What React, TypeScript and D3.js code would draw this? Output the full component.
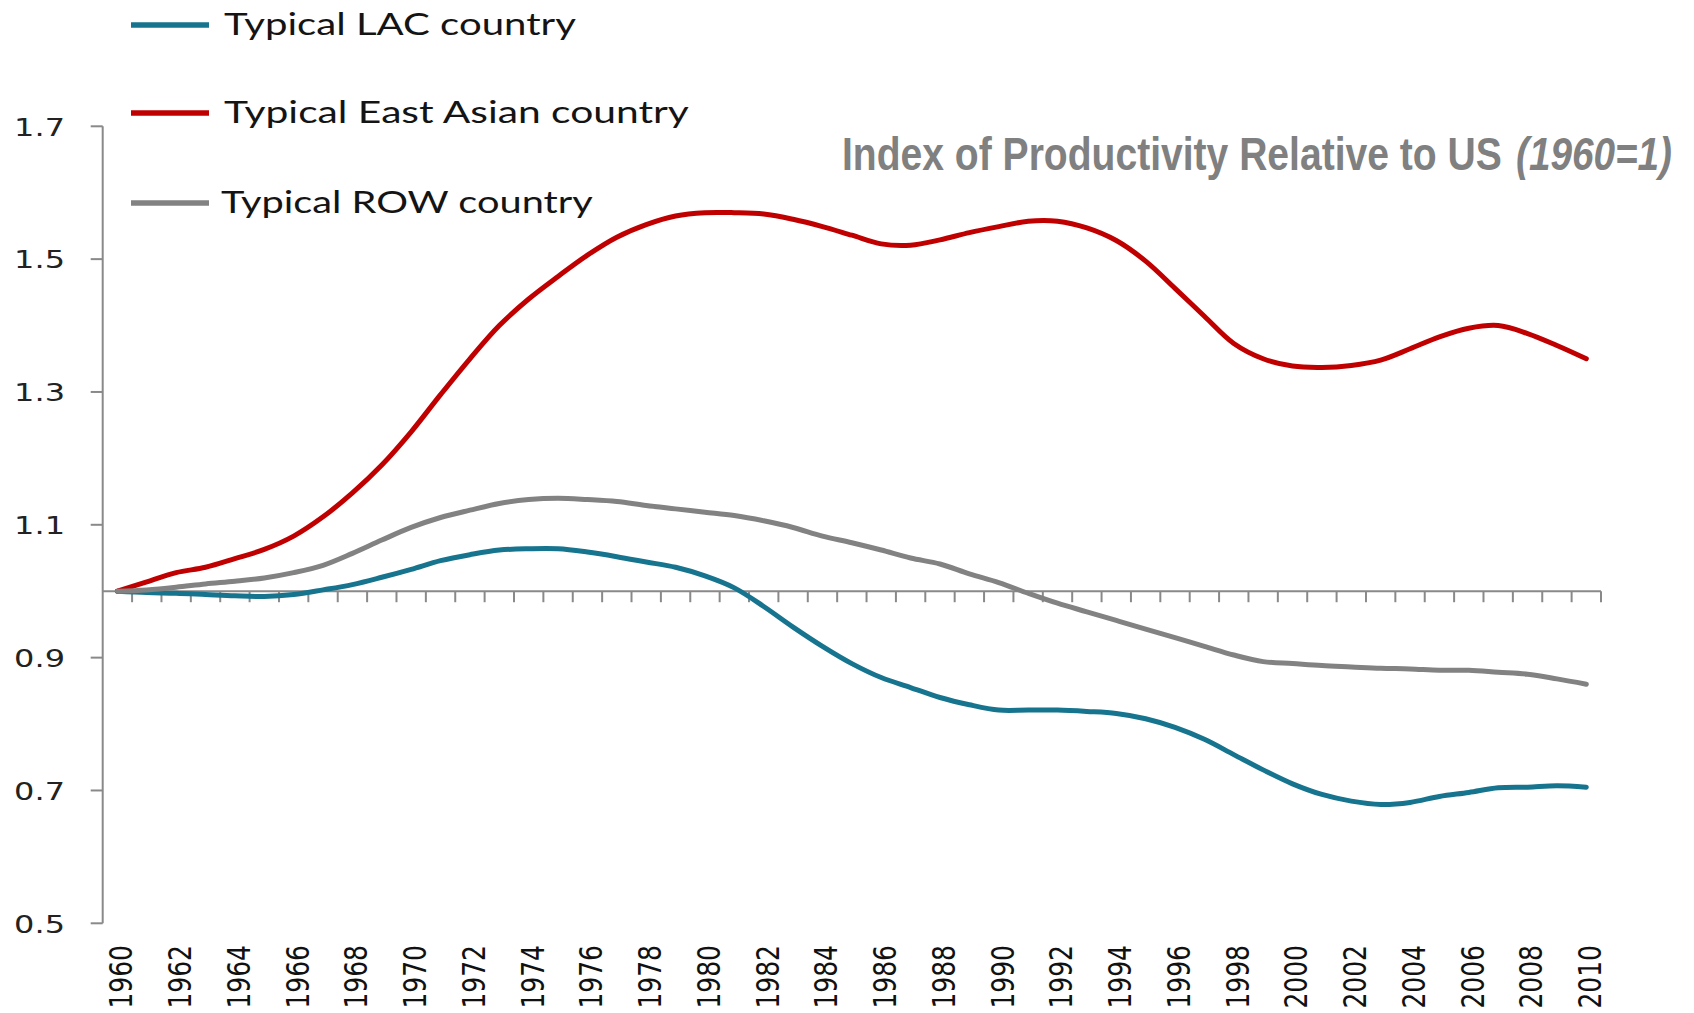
import React, { useEffect, useRef } from 'react';
import * as d3 from 'd3';

const years = d3.range(1960, 2011);

const lac = [
  1.0, 0.998, 0.997, 0.995, 0.993, 0.992, 0.995, 1.002, 1.01, 1.021,
  1.033, 1.046, 1.055, 1.062, 1.064, 1.064, 1.059, 1.052, 1.044, 1.036,
  1.023, 1.005, 0.977, 0.946, 0.917, 0.891, 0.87, 0.855, 0.84, 0.829,
  0.821, 0.821, 0.821, 0.819, 0.816, 0.808, 0.795, 0.777, 0.754, 0.731,
  0.71, 0.694, 0.684, 0.679, 0.682, 0.691, 0.697, 0.704, 0.705, 0.707,
  0.705
];

const eastAsia = [
  1.0, 1.014, 1.028, 1.036, 1.049, 1.063, 1.083, 1.112, 1.148, 1.19,
  1.24, 1.296, 1.35, 1.4, 1.44, 1.474, 1.506, 1.533, 1.552, 1.565,
  1.57, 1.57, 1.568, 1.56, 1.549, 1.536, 1.523, 1.521, 1.529, 1.54,
  1.549, 1.557, 1.557, 1.547, 1.528, 1.497, 1.456, 1.414, 1.373, 1.35,
  1.339, 1.337, 1.34, 1.348, 1.365, 1.383, 1.396, 1.4, 1.388, 1.37,
  1.35
];

const row = [
  1.0, 1.002, 1.006, 1.011, 1.015, 1.02, 1.028, 1.039, 1.057, 1.077,
  1.096, 1.111, 1.122, 1.132, 1.138, 1.14, 1.138, 1.135, 1.129, 1.124,
  1.119, 1.114, 1.106, 1.096, 1.083, 1.073, 1.062, 1.05, 1.041, 1.026,
  1.013, 0.997, 0.982, 0.969, 0.956, 0.943, 0.93, 0.917, 0.904, 0.894,
  0.891, 0.888, 0.886, 0.884, 0.883, 0.881, 0.881, 0.878, 0.875, 0.868,
  0.86
];

const yTicks = [0.5, 0.7, 0.9, 1.1, 1.3, 1.5, 1.7];
const labelYears = years.filter((y) => y % 2 === 0);

const seriesNames = ['Typical LAC country', 'Typical East Asian country', 'Typical ROW country'];
const seriesColors = ['#17748e', '#c00000', '#828282'];
const seriesData = [lac, eastAsia, row];

const title = 'Index of Productivity Relative to US';
const titleItalic = '(1960=1)';

// squeeze/stretch a text horizontally so it spans `width` px from (x, y)
function fitText(sel: any, x: number, y: number, width: number) {
  const node = sel.node() as SVGTextElement;
  const w = node.getComputedTextLength() || width;
  sel.attr('transform', `translate(${x},${y}) scale(${width / w},1)`);
}

export default function App() {
  const ref = useRef<SVGSVGElement | null>(null);

  useEffect(() => {
    document.body.style.margin = '0';
    const svg = d3.select(ref.current);
    svg.selectAll('*').remove();

    const axisColor = '#898989';
    const stretch = 1.28;

    const x = d3.scaleBand<number>()
      .domain(years)
      .range([102.7, 1601]);
    const y = d3.scaleLinear()
      .domain([0.5, 1.7])
      .range([923.3, 126.3]);
    const cx = (yr: number) => (x(yr) as number) + x.bandwidth() / 2;

    // y axis
    svg.append('line')
      .attr('x1', x.range()[0]).attr('x2', x.range()[0])
      .attr('y1', y(1.7)).attr('y2', y(0.5))
      .attr('stroke', axisColor).attr('stroke-width', 2);

    const yt = svg.append('g');
    yt.selectAll('line').data(yTicks).enter().append('line')
      .attr('x1', x.range()[0] - 12).attr('x2', x.range()[0])
      .attr('y1', (d) => y(d)).attr('y2', (d) => y(d))
      .attr('stroke', axisColor).attr('stroke-width', 2);
    yt.selectAll('text').data(yTicks).enter().append('text')
      .attr('transform', (d) => `translate(65,${y(d)}) scale(${stretch},1)`)
      .attr('dy', '0.37em')
      .attr('text-anchor', 'end')
      .attr('font-family', '"DejaVu Sans", Verdana, sans-serif')
      .attr('font-size', 25)
      .attr('fill', '#222')
      .text((d) => d3.format('.1f')(d));

    // x axis at 1.0
    const y0 = y(1.0);
    svg.append('line')
      .attr('x1', x.range()[0]).attr('x2', x.range()[1])
      .attr('y1', y0).attr('y2', y0)
      .attr('stroke', axisColor).attr('stroke-width', 2);
    svg.append('g').selectAll('line').data(years).enter().append('line')
      .attr('x1', (d) => (x(d) as number) + x.bandwidth())
      .attr('x2', (d) => (x(d) as number) + x.bandwidth())
      .attr('y1', y0).attr('y2', y0 + 11)
      .attr('stroke', axisColor).attr('stroke-width', 2);

    svg.append('g').selectAll('text').data(labelYears).enter().append('text')
      .attr('transform', (d) => `translate(${cx(d) + 3},945) scale(${stretch},1) rotate(-90)`)
      .attr('dy', '0.37em')
      .attr('text-anchor', 'end')
      .attr('font-family', '"DejaVu Sans", Verdana, sans-serif')
      .attr('font-size', 25)
      .attr('fill', '#111')
      .text((d) => String(d));

    // lines
    const line = d3.line<number>()
      .x((d, i) => cx(years[i]))
      .y((d) => y(d))
      .curve(d3.curveCatmullRom.alpha(0.5));

    seriesData.forEach((data, i) => {
      svg.append('path')
        .attr('d', line(data))
        .attr('fill', 'none')
        .attr('stroke', seriesColors[i])
        .attr('stroke-width', 5)
        .attr('stroke-linecap', 'round')
        .attr('stroke-linejoin', 'round');
    });

    // legend
    const legendY = [25, 113, 203];
    const legendText = [35, 123, 213];
    const legendLen = [352, 465, 372];
    const legendX = [224, 224, 221];
    seriesNames.forEach((name, i) => {
      svg.append('line')
        .attr('x1', 131).attr('x2', 209)
        .attr('y1', legendY[i]).attr('y2', legendY[i])
        .attr('stroke', seriesColors[i])
        .attr('stroke-width', 5.5);
      const lt = svg.append('text')
        .attr('font-family', 'Lato, "Open Sans", sans-serif')
        .attr('font-size', 31)
        .attr('fill', '#141414')
        .text(name);
      fitText(lt, legendX[i], legendText[i], legendLen[i]);
    });

    // title, upright part and italic part
    const t1 = svg.append('text')
      .attr('font-family', '"Liberation Sans Narrow", "Liberation Sans", Arial, sans-serif')
      .attr('font-weight', 'bold')
      .attr('font-size', 47)
      .attr('fill', '#808080')
      .text(title);
    fitText(t1, 842, 170, 660);
    const t2 = svg.append('text')
      .attr('font-family', '"Liberation Sans Narrow", "Liberation Sans", Arial, sans-serif')
      .attr('font-weight', 'bold')
      .attr('font-style', 'italic')
      .attr('font-size', 47)
      .attr('fill', '#808080')
      .text(titleItalic);
    fitText(t2, 1516, 170, 156);
  }, []);

  return (
    <svg ref={ref} width={1694} height={1013} style={{ display: 'block', background: '#fff' }} />
  );
}
